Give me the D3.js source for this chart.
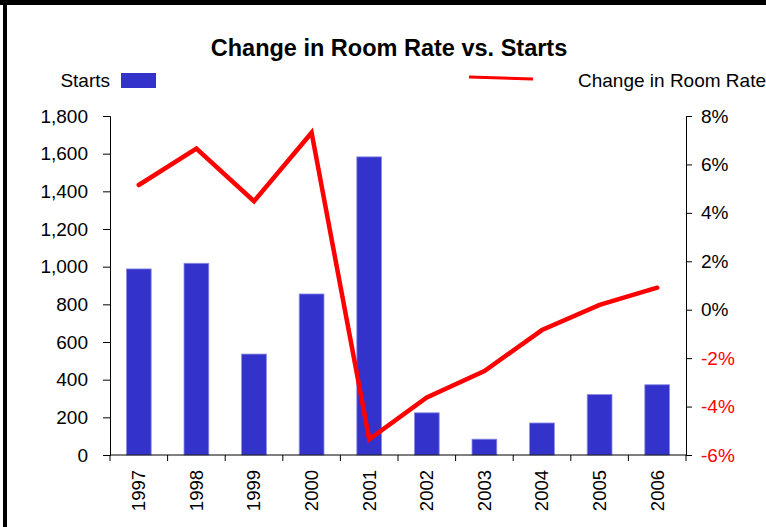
<!DOCTYPE html>
<html>
<head>
<meta charset="utf-8">
<script src="https://cdn.jsdelivr.net/npm/d3@7"></script>
<style>
  html, body { margin: 0; padding: 0; background: #fff; }
  svg { display: block; font-family: "Liberation Sans", Arial, sans-serif; }
</style>
</head>
<body>
<div id="chart"></div>
<script>
// chart data
const years = ['1997', '1998', '1999', '2000', '2001', '2002', '2003', '2004', '2005', '2006'];
const starts = [988, 1018, 536, 855, 1583, 224, 84, 170, 321, 373];
const rateChange = [5.15, 6.65, 4.48, 7.31, -5.35, -3.62, -2.53, -0.84, 0.2, 0.91];
const startTicks = [0, 200, 400, 600, 800, 1000, 1200, 1400, 1600, 1800];
const rateTicks = [-6, -4, -2, 0, 2, 4, 6, 8];

const W = 766, H = 527;
const margin = { top: 116, right: 80, bottom: 72, left: 110 };
const width = 686 - margin.left;
const height = 455 - margin.top;

const svg = d3.select('#chart').append('svg')
  .attr('width', W)
  .attr('height', H);

// frame (black band on top, line on the left)
svg.append('rect').attr('x', 0).attr('y', 0).attr('width', W).attr('height', 5).attr('fill', '#000');
svg.append('rect').attr('x', 3).attr('y', 0).attr('width', 4).attr('height', H).attr('fill', '#000');

// title
svg.append('text')
  .attr('x', 389)
  .attr('y', 56)
  .attr('text-anchor', 'middle')
  .attr('font-size', '23.5px')
  .attr('font-weight', 'bold')
  .attr('fill', '#000')
  .text('Change in Room Rate vs. Starts');

const g = svg.append('g')
  .attr('transform', `translate(${margin.left},${margin.top})`);

const x = d3.scaleBand()
  .domain(years)
  .range([0, width])
  .paddingInner(0)
  .paddingOuter(0);

const y = d3.scaleLinear()
  .domain([0, 1800])
  .range([height, 0]);

const y2 = d3.scaleLinear()
  .domain([-6, 8])
  .range([height, 0]);

// bars
const barW = x.bandwidth() * 0.43;
g.selectAll('.bar')
  .data(starts)
  .enter().append('rect')
  .attr('class', 'bar')
  .attr('x', (d, i) => x(years[i]) + (x.bandwidth() - barW) / 2)
  .attr('y', d => y(d))
  .attr('width', barW)
  .attr('height', d => height - y(d))
  .attr('fill', '#3333cc')
  .attr('stroke', '#8c8ce6')
  .attr('stroke-width', 0.8);

// left axis
const leftAxis = g.append('g')
  .call(d3.axisLeft(y).tickValues(startTicks).tickSize(7).tickPadding(15).tickFormat(d3.format(',')));
leftAxis.selectAll('text').attr('font-size', '19px').attr('fill', '#000').attr('font-family', 'Liberation Sans, Arial, sans-serif');

// right axis
const rightAxis = g.append('g')
  .attr('transform', `translate(${width},0)`)
  .call(d3.axisRight(y2).tickValues(rateTicks).tickSize(6).tickPadding(9).tickFormat(d => d + '%'));
rightAxis.selectAll('text')
  .attr('font-size', '19px')
  .attr('font-family', 'Liberation Sans, Arial, sans-serif')
  .attr('fill', d => d < 0 ? '#ff0000' : '#000');

// bottom axis with ticks between categories
const bottom = g.append('g').attr('transform', `translate(0,${height})`);
bottom.append('line')
  .attr('x1', 0).attr('x2', width)
  .attr('stroke', '#000');
bottom.selectAll('.xtick')
  .data(d3.range(years.length + 1))
  .enter().append('line')
  .attr('x1', i => i < years.length ? x(years[i]) : width)
  .attr('x2', i => i < years.length ? x(years[i]) : width)
  .attr('y1', 0).attr('y2', 6)
  .attr('stroke', '#000');
bottom.selectAll('.xlabel')
  .data(years)
  .enter().append('text')
  .attr('transform', d => `translate(${x(d) + x.bandwidth() / 2},15) rotate(-90)`)
  .attr('text-anchor', 'end')
  .attr('dy', '0.35em')
  .attr('font-size', '18.5px')
  .attr('fill', '#000')
  .text(d => d);

g.selectAll('.domain').attr('stroke', '#000');
g.selectAll('.tick line').attr('stroke', '#000');

// room rate line
const line = d3.line()
  .x((d, i) => x(years[i]) + x.bandwidth() / 2)
  .y(d => y2(d));

g.append('path')
  .datum(rateChange)
  .attr('fill', 'none')
  .attr('stroke', '#ff0000')
  .attr('stroke-width', 4.5)
  .attr('stroke-linecap', 'round')
  .attr('d', line);

// legend
svg.append('text')
  .attr('x', 110).attr('y', 80)
  .attr('text-anchor', 'end')
  .attr('dy', '0.35em')
  .attr('font-size', '19px')
  .text('Starts');
svg.append('rect')
  .attr('x', 121).attr('y', 73)
  .attr('width', 35).attr('height', 15)
  .attr('fill', '#3333cc');

svg.append('line')
  .attr('x1', 469).attr('y1', 77)
  .attr('x2', 533).attr('y2', 79)
  .attr('stroke', '#ff0000')
  .attr('stroke-width', 3);
svg.append('text')
  .attr('x', 578).attr('y', 80)
  .attr('dy', '0.35em')
  .attr('font-size', '19px')
  .text('Change in Room Rate');
</script>
</body>
</html>
